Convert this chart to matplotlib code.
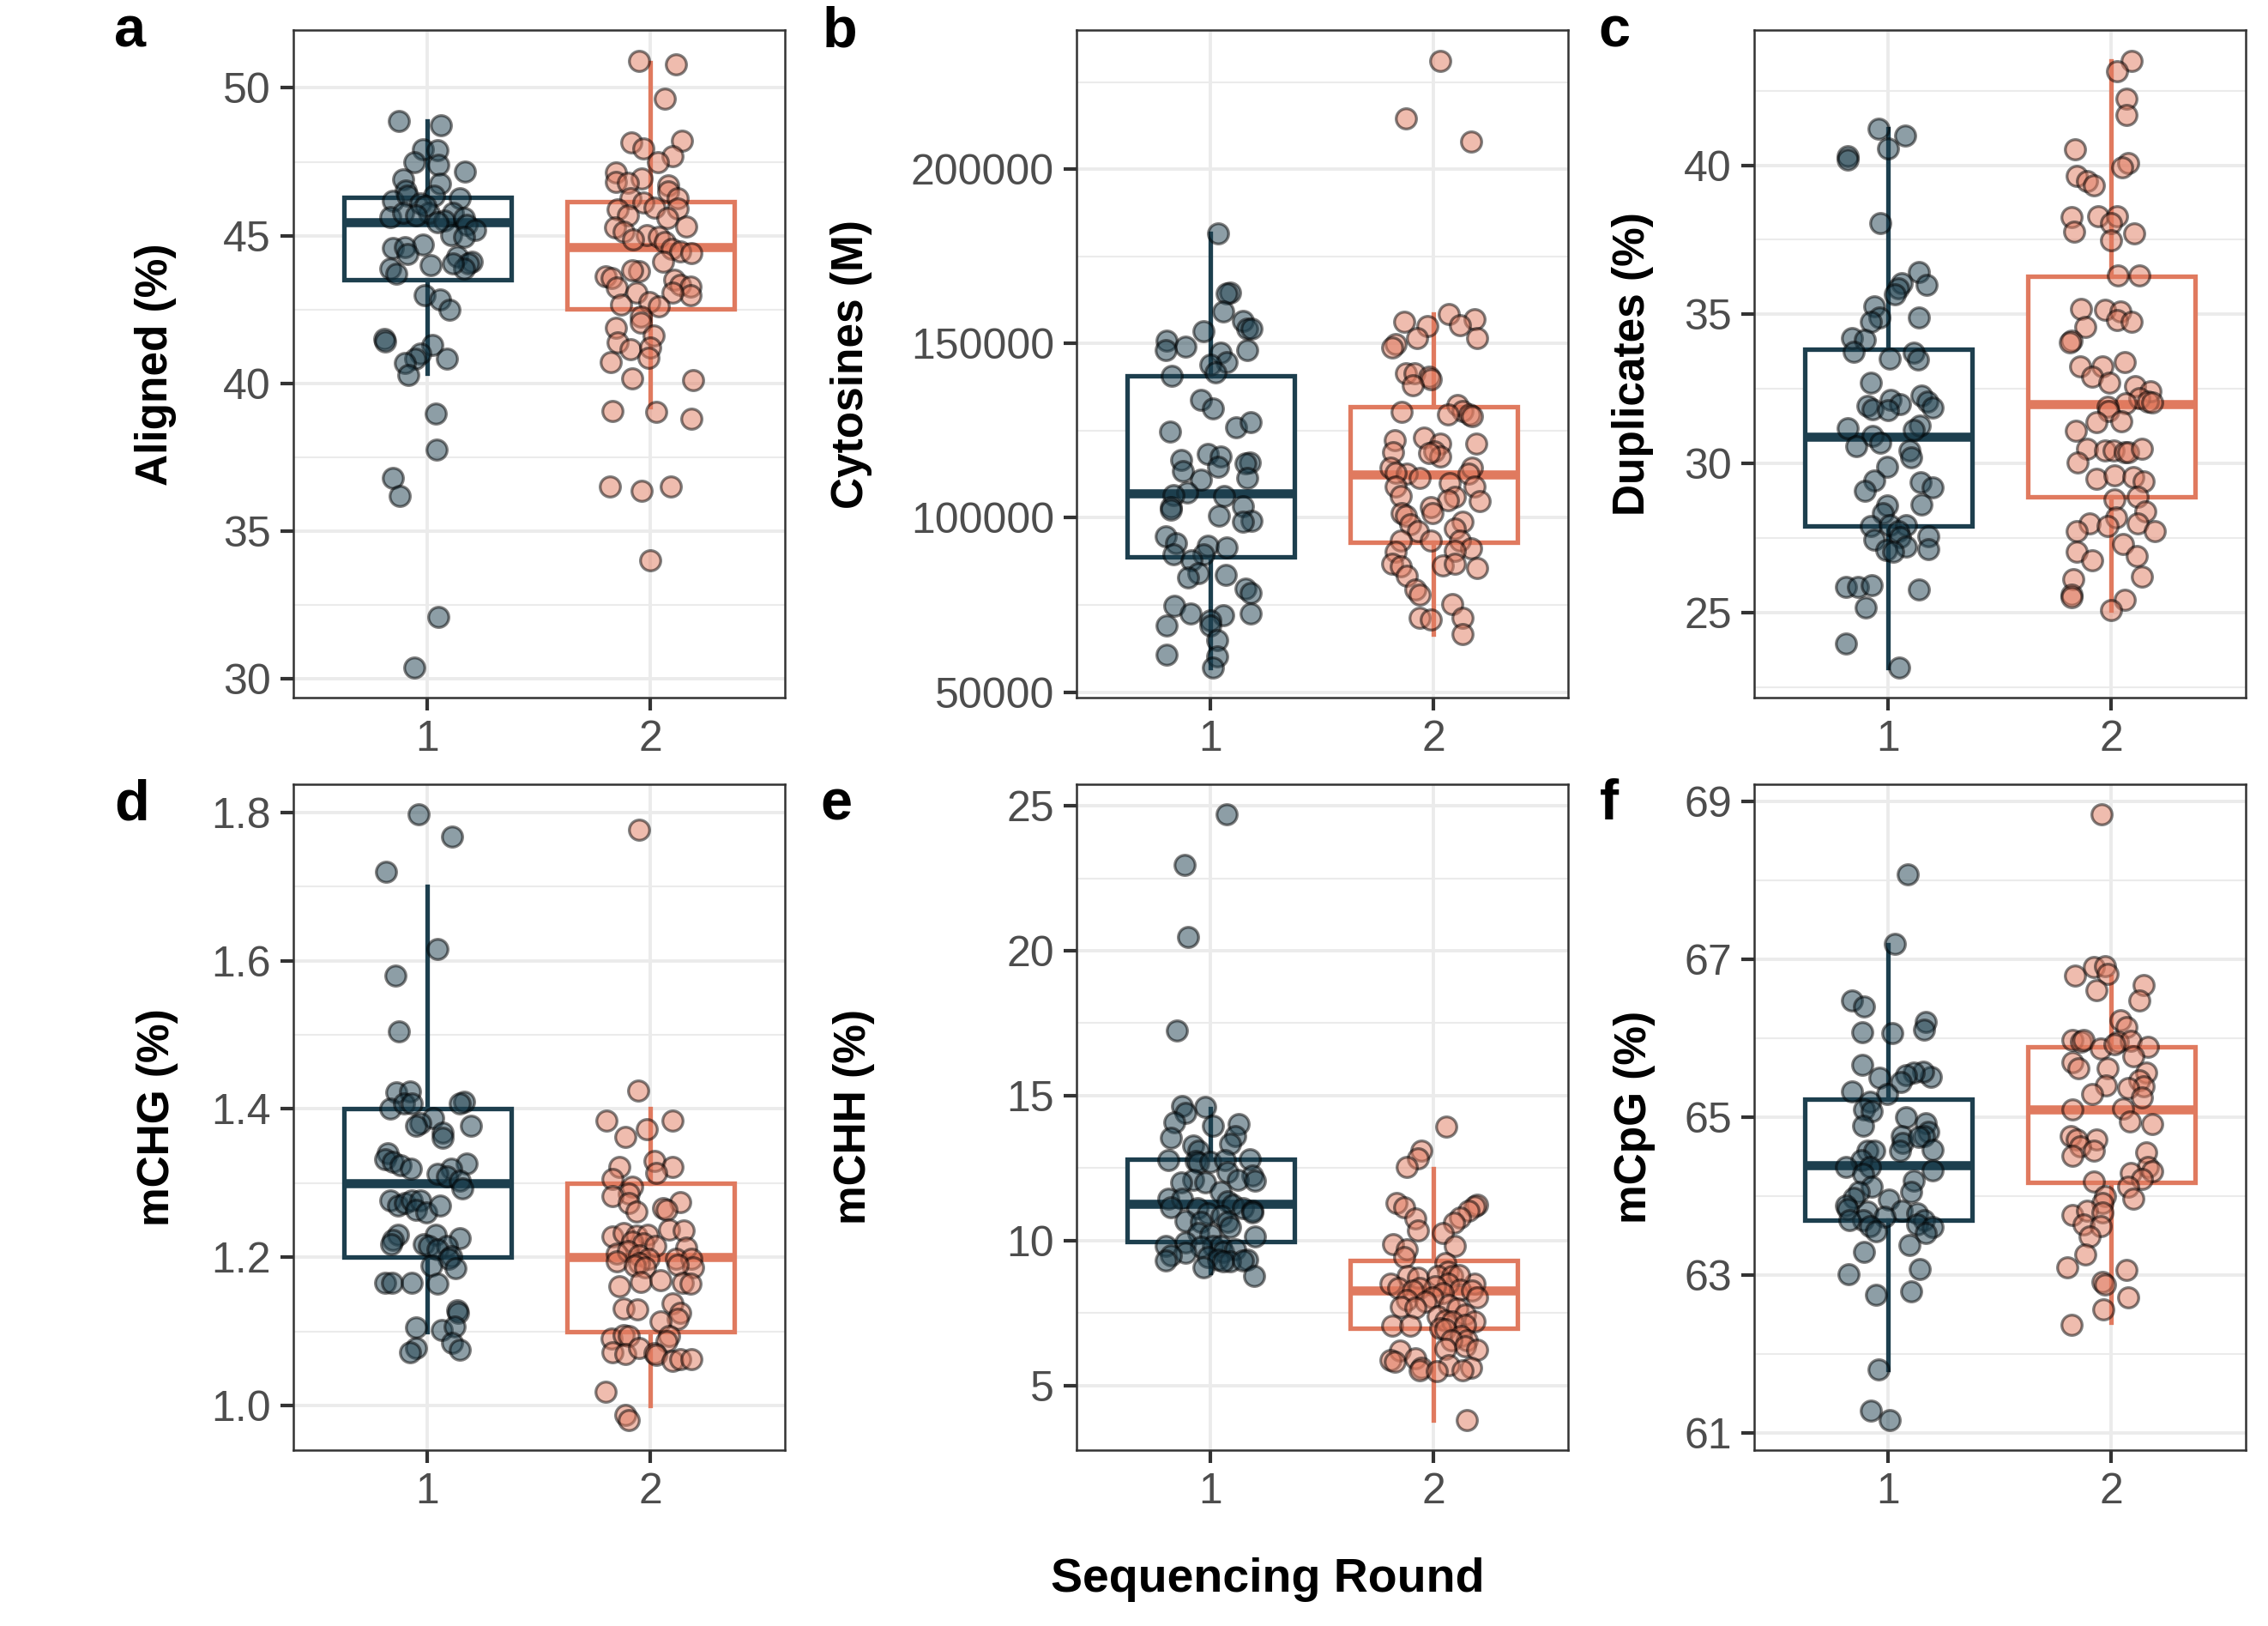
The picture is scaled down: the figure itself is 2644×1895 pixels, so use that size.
import numpy as np
import matplotlib
matplotlib.use('Agg')
import matplotlib.pyplot as plt
from matplotlib.ticker import MultipleLocator, AutoMinorLocator, FormatStrFormatter

plt.rcParams['font.family'] = ['Liberation Sans', 'DejaVu Sans']

# ------------------------------------------------------------
# Data: each row is (jitter offset, value)
# ------------------------------------------------------------
ROUNDS = [1, 2]
ROUND_LABELS = ['1', '2']

aligned_r1 = np.array([
    [-0.127, 48.89], [0.061, 48.74], [-0.02, 47.92], [0.047, 47.89], [-0.06, 47.48],
    [0.049, 47.40], [0.168, 47.17], [-0.11, 46.91], [0.057, 46.75], [-0.098, 46.53],
    [-0.155, 46.17], [-0.09, 46.34], [0.031, 46.34], [0.147, 46.26], [-0.03, 46.09],
    [0.115, 45.76], [-0.168, 45.63], [-0.11, 45.76], [0.008, 45.76], [0.076, 45.52],
    [0.164, 45.60], [0.176, 45.36], [0.213, 45.19], [0.106, 45.03], [0.164, 44.95],
    [-0.155, 44.59], [-0.02, 44.70], [-0.1, 44.62], [-0.09, 44.37], [0.135, 44.29],
    [0.2, 44.13], [0.184, 44.05], [0.164, 43.88], [0.115, 44.05], [0.014, 44.01],
    [-0.168, 43.88], [-0.139, 43.72], [-0.012, 42.98], [0.057, 42.85], [0.1, 42.49],
    [-0.194, 41.51], [-0.188, 41.40], [0.023, 41.30], [-0.03, 41.02], [-0.055, 40.83],
    [-0.1, 40.70], [-0.086, 40.29], [0.086, 40.83], [0.037, 38.96], [0.041, 37.75],
    [-0.153, 36.80], [-0.125, 36.17], [0.049, 32.09], [-0.059, 30.38], [-0.008, 46.01],
    [0.047, 45.44], [-0.05, 45.68],
])
aligned_r2 = np.array([
    [-0.053, 50.92], [0.114, 50.80], [0.063, 49.64], [0.141, 48.22], [-0.086, 48.14],
    [-0.033, 47.94], [0.1, 47.69], [0.031, 47.48], [-0.155, 47.15], [-0.039, 46.94],
    [-0.155, 46.81], [-0.102, 46.78], [0.08, 46.70], [0.08, 46.50], [-0.092, 46.26],
    [0.123, 46.26], [-0.033, 46.12], [0.016, 45.96], [-0.147, 45.90], [0.123, 45.93],
    [-0.102, 45.68], [0.074, 45.60], [-0.16, 45.27], [-0.121, 45.14], [0.159, 45.32],
    [-0.018, 45.03], [-0.08, 44.87], [0.035, 44.95], [0.065, 44.78], [0.094, 44.54],
    [0.133, 44.46], [0.182, 44.42], [0.055, 44.13], [-0.2, 43.61], [-0.176, 43.57],
    [-0.053, 43.80], [-0.082, 43.83], [0.104, 43.51], [0.133, 43.34], [0.178, 43.28],
    [0.178, 42.98], [-0.151, 43.23], [-0.063, 43.07], [0.1, 43.07], [-0.004, 42.74],
    [0.035, 42.61], [-0.131, 42.66], [-0.043, 42.25], [-0.043, 42.04], [-0.155, 41.89],
    [0.014, 41.63], [-0.147, 41.38], [-0.092, 41.15], [-0.002, 41.22], [-0.01, 40.86],
    [-0.18, 40.73], [-0.082, 40.17], [0.192, 40.11], [-0.17, 39.06], [0.025, 39.03],
    [0.182, 38.81], [-0.182, 36.49], [-0.041, 36.36], [0.09, 36.49], [-0.002, 34.02],
])

cytosines_r1 = np.array([
    [0.033, 181580], [0.088, 164680], [0.073, 164270], [0.055, 159140], [-0.033, 153600],
    [0.144, 156380], [0.166, 154300], [0.184, 154300], [-0.197, 150830], [-0.111, 149170],
    [-0.199, 148060], [0.166, 148200], [0.044, 147370], [0.073, 144600], [0.0, 143910],
    [0.022, 141830], [-0.173, 140720], [-0.044, 133800], [0.011, 131440], [0.115, 125900],
    [0.181, 127560], [-0.181, 124790], [-0.133, 116620], [-0.011, 118280], [0.044, 117590],
    [0.033, 114540], [-0.122, 113430], [0.177, 115790], [0.155, 115510], [-0.044, 110940],
    [0.166, 111360], [-0.104, 107200], [-0.166, 106510], [0.06, 106230], [-0.179, 103050],
    [-0.179, 102360], [0.144, 103330], [0.038, 100560], [0.184, 99170], [0.144, 98900],
    [-0.199, 94740], [-0.155, 92660], [-0.011, 91970], [0.073, 91550], [-0.166, 89480],
    [-0.033, 89480], [-0.084, 87820], [-0.055, 84080], [-0.1, 82970], [0.069, 83660],
    [0.155, 79780], [0.181, 78530], [-0.161, 74660], [-0.088, 72580], [0.055, 72160],
    [0.181, 72580], [-0.195, 69120], [0.0, 70500], [0.0, 69120], [0.029, 64960],
    [-0.195, 60800], [0.029, 60110], [0.011, 57070],
])
cytosines_r2 = np.array([
    [0.029, 231160], [-0.126, 214680], [0.166, 208030], [0.066, 158450], [-0.133, 156240],
    [0.184, 157070], [0.117, 155270], [-0.027, 154990], [-0.075, 151520], [0.195, 151520],
    [-0.17, 149860], [-0.188, 148750], [-0.126, 141410], [-0.086, 141410], [-0.02, 140450],
    [-0.015, 139750], [-0.093, 138090], [0.106, 132410], [0.128, 130750], [0.161, 129640],
    [0.173, 129090], [-0.142, 130340], [0.062, 129640], [-0.042, 123130], [0.029, 121330],
    [-0.175, 122160], [0.19, 121330], [0.002, 118980], [0.029, 117590], [-0.181, 118840],
    [-0.02, 118560], [-0.192, 114410], [0.173, 114410], [-0.119, 112750], [-0.17, 113020],
    [-0.064, 111360], [0.157, 112750], [0.073, 109980], [-0.17, 108870], [0.184, 109010],
    [-0.148, 106230], [0.095, 106090], [0.062, 105120], [0.206, 104710], [-0.015, 103050],
    [-0.142, 101390], [-0.004, 101390], [-0.126, 100560], [0.128, 98900], [-0.104, 98200],
    [0.095, 96820], [-0.071, 96130], [-0.148, 93360], [-0.015, 93360], [0.117, 93360],
    [0.168, 91280], [0.095, 90590], [-0.17, 90170], [-0.186, 86710], [-0.148, 86160],
    [0.04, 86430], [0.095, 86710], [0.195, 85460], [-0.122, 83380], [-0.082, 79500],
    [-0.064, 77840], [0.084, 75350], [-0.064, 71190], [-0.015, 70920], [0.128, 71190],
    [0.128, 66620],
])

duplicates_r1 = np.array([
    [-0.044, 41.21], [0.077, 41.00], [0.0, 40.57], [-0.18, 40.29], [-0.18, 40.19],
    [-0.035, 38.06], [0.139, 36.41], [0.172, 35.99], [0.062, 36.04], [0.046, 35.87],
    [0.029, 35.66], [-0.064, 35.28], [0.139, 34.89], [-0.039, 34.90], [-0.079, 34.74],
    [-0.164, 34.21], [-0.103, 34.14], [-0.155, 33.74], [0.116, 33.72], [0.135, 33.50],
    [0.008, 33.53], [-0.077, 32.72], [0.149, 32.28], [0.174, 32.07], [0.197, 31.88],
    [0.01, 32.15], [0.052, 31.99], [-0.093, 31.94], [-0.07, 31.83], [0.0, 31.78],
    [0.143, 31.26], [0.116, 31.13], [-0.18, 31.18], [-0.07, 30.94], [-0.035, 30.70],
    [-0.145, 30.58], [0.097, 30.45], [0.104, 30.21], [-0.004, 29.89], [0.147, 29.37],
    [0.197, 29.19], [-0.064, 29.43], [-0.106, 29.08], [0.149, 28.62], [-0.006, 28.59],
    [-0.025, 28.35], [-0.077, 27.90], [0.008, 27.94], [0.081, 27.94], [0.046, 27.73],
    [-0.064, 27.46], [0.052, 27.54], [0.178, 27.57], [0.178, 27.14], [0.081, 27.22],
    [-0.01, 27.09], [0.023, 27.06], [-0.19, 25.87], [-0.137, 25.87], [-0.074, 25.92],
    [0.139, 25.79], [-0.1, 25.19], [-0.19, 23.98], [0.048, 23.17],
])
duplicates_r2 = np.array([
    [0.091, 43.50], [0.025, 43.16], [0.068, 42.22], [0.068, 41.68], [-0.164, 40.52],
    [0.074, 40.08], [0.048, 39.92], [-0.155, 39.64], [-0.11, 39.48], [-0.077, 39.32],
    [-0.18, 38.27], [-0.058, 38.30], [0.025, 38.30], [-0.168, 37.77], [0.0, 38.06],
    [0.103, 37.70], [0.0, 37.49], [0.029, 36.31], [0.126, 36.31], [-0.135, 35.19],
    [-0.029, 35.15], [0.039, 35.10], [0.025, 34.82], [0.091, 34.74], [-0.116, 34.58],
    [-0.18, 34.13], [-0.188, 34.05], [0.058, 33.40], [-0.139, 33.25], [-0.039, 33.25],
    [-0.087, 32.91], [-0.01, 32.72], [0.106, 32.61], [0.174, 32.43], [0.126, 32.20],
    [0.164, 32.07], [0.184, 32.04], [0.064, 32.02], [-0.019, 31.91], [-0.014, 31.75],
    [-0.068, 31.38], [0.044, 31.42], [-0.161, 31.10], [-0.11, 30.49], [-0.029, 30.45],
    [0.01, 30.45], [0.058, 30.37], [0.077, 30.37], [0.135, 30.49], [-0.151, 30.05],
    [-0.068, 29.48], [0.014, 29.60], [0.097, 29.56], [0.145, 29.40], [0.116, 28.88],
    [0.015, 28.79], [0.151, 28.40], [0.023, 28.19], [-0.097, 28.00], [0.116, 28.00],
    [-0.019, 27.91], [0.193, 27.75], [-0.155, 27.73], [0.052, 27.31], [-0.155, 27.06],
    [0.112, 26.89], [-0.087, 26.76], [0.135, 26.20], [-0.17, 26.12], [-0.178, 25.60],
    [-0.178, 25.52], [0.058, 25.44], [0.0, 25.08],
])

mchg_r1 = np.array([
    [-0.041, 1.797], [0.112, 1.767], [-0.184, 1.720], [0.047, 1.616], [-0.143, 1.580],
    [-0.129, 1.505], [-0.139, 1.422], [-0.078, 1.424], [-0.168, 1.401], [-0.104, 1.408],
    [-0.07, 1.407], [0.164, 1.410], [0.145, 1.407], [0.027, 1.388], [-0.031, 1.381],
    [-0.051, 1.377], [0.194, 1.377], [0.067, 1.368], [0.067, 1.361], [-0.178, 1.340],
    [-0.188, 1.332], [-0.153, 1.329], [-0.119, 1.324], [-0.074, 1.319], [0.174, 1.327],
    [0.106, 1.319], [0.047, 1.313], [0.086, 1.309], [0.145, 1.303], [0.155, 1.293],
    [-0.168, 1.277], [-0.133, 1.270], [-0.1, 1.273], [-0.07, 1.277], [-0.031, 1.277],
    [-0.051, 1.264], [-0.006, 1.260], [0.057, 1.270], [-0.133, 1.231], [-0.153, 1.223],
    [-0.164, 1.218], [0.037, 1.231], [0.145, 1.226], [-0.016, 1.218], [0.008, 1.216],
    [0.086, 1.215], [0.047, 1.211], [0.106, 1.202], [0.096, 1.198], [0.018, 1.189],
    [0.126, 1.185], [-0.188, 1.166], [-0.159, 1.166], [-0.07, 1.166], [0.047, 1.164],
    [0.135, 1.129], [0.139, 1.125], [-0.051, 1.105], [0.063, 1.102], [0.121, 1.107],
    [0.112, 1.085], [0.145, 1.076], [-0.051, 1.078], [-0.076, 1.072],
])
mchg_r2 = np.array([
    [-0.053, 1.777], [-0.057, 1.425], [-0.196, 1.384], [0.1, 1.384], [-0.018, 1.373],
    [-0.115, 1.362], [0.016, 1.330], [0.1, 1.322], [-0.141, 1.322], [0.025, 1.314],
    [-0.17, 1.306], [-0.082, 1.295], [-0.096, 1.286], [-0.17, 1.283], [0.133, 1.275],
    [-0.096, 1.273], [-0.063, 1.262], [0.055, 1.266], [0.07, 1.264], [0.084, 1.238],
    [0.149, 1.236], [-0.17, 1.228], [-0.121, 1.233], [-0.065, 1.229], [-0.014, 1.231],
    [-0.082, 1.221], [-0.033, 1.219], [0.02, 1.215], [0.161, 1.213], [-0.151, 1.205],
    [-0.102, 1.208], [-0.053, 1.203], [-0.01, 1.198], [0.114, 1.198], [0.182, 1.198],
    [-0.151, 1.195], [-0.053, 1.192], [-0.072, 1.189], [-0.024, 1.187], [0.192, 1.187],
    [0.123, 1.190], [-0.141, 1.161], [-0.043, 1.167], [0.045, 1.169], [0.143, 1.166],
    [0.178, 1.164], [0.1, 1.138], [-0.121, 1.131], [-0.059, 1.130], [0.133, 1.125],
    [0.123, 1.117], [0.045, 1.114], [-0.174, 1.091], [-0.121, 1.095], [-0.096, 1.094],
    [0.084, 1.094], [0.07, 1.087], [-0.17, 1.072], [-0.115, 1.070], [-0.053, 1.078],
    [0.016, 1.071], [0.025, 1.068], [0.1, 1.061], [0.133, 1.063], [0.182, 1.063],
    [-0.2, 1.019], [-0.112, 0.988], [-0.096, 0.981],
])

mchh_r1 = np.array([
    [0.071, 24.70], [-0.117, 22.97], [-0.1, 20.47], [-0.15, 17.25], [-0.128, 14.65],
    [-0.022, 14.60], [-0.111, 14.40], [-0.162, 14.07], [0.011, 13.97], [0.126, 14.02],
    [0.111, 13.60], [-0.177, 13.55], [0.088, 13.35], [-0.077, 13.27], [-0.055, 13.10],
    [-0.188, 12.77], [0.177, 12.82], [-0.066, 12.74], [-0.055, 12.69], [0.0, 12.72],
    [0.066, 12.77], [0.077, 12.35], [0.188, 12.24], [-0.077, 12.10], [0.122, 12.10],
    [0.199, 12.07], [-0.133, 12.02], [-0.022, 12.00], [0.044, 11.69], [-0.188, 11.44],
    [-0.128, 11.44], [0.077, 11.36], [0.1, 11.24], [-0.177, 11.14], [-0.06, 11.11],
    [0.144, 11.11], [0.188, 11.02], [-0.011, 10.94], [0.051, 10.86], [0.188, 10.97],
    [-0.111, 10.69], [-0.044, 10.64], [0.077, 10.64], [0.088, 10.47], [-0.055, 10.27],
    [0.0, 10.19], [0.199, 10.14], [-0.111, 9.94], [-0.199, 9.81], [0.011, 9.81],
    [0.044, 9.81], [-0.044, 9.78], [0.055, 9.61], [-0.111, 9.58], [0.111, 9.69],
    [-0.011, 9.44], [-0.177, 9.48], [-0.199, 9.31], [0.033, 9.36], [0.166, 9.36],
    [0.088, 9.28], [0.055, 9.28], [0.144, 9.31], [-0.033, 9.08], [0.195, 8.78],
])
mchh_r2 = np.array([
    [0.055, 13.94], [-0.055, 13.10], [-0.071, 12.85], [-0.119, 12.55], [0.195, 11.24],
    [0.184, 11.19], [-0.166, 11.31], [-0.131, 11.14], [0.157, 11.02], [0.117, 10.81],
    [-0.082, 10.77], [0.091, 10.61], [-0.071, 10.36], [0.04, 10.27], [-0.181, 9.89],
    [0.095, 9.81], [-0.122, 9.69], [-0.131, 9.44], [0.051, 9.24], [0.062, 8.94],
    [-0.115, 8.78], [-0.071, 8.73], [0.018, 8.78], [0.084, 8.78], [-0.192, 8.53],
    [0.184, 8.53], [0.113, 8.81], [0.062, 8.53], [0.007, 8.44], [-0.159, 8.36],
    [-0.064, 8.36], [0.117, 8.31], [-0.093, 8.28], [0.173, 8.28], [0.04, 8.19],
    [0.195, 8.03], [-0.004, 8.03], [-0.119, 7.95], [-0.038, 7.90], [0.069, 7.78],
    [-0.148, 7.73], [-0.082, 7.70], [0.106, 7.65], [0.139, 7.45], [0.018, 7.40],
    [0.051, 7.25], [0.084, 7.20], [0.184, 7.20], [0.139, 7.11], [-0.186, 7.08],
    [-0.104, 7.08], [0.029, 6.98], [0.051, 6.94], [0.122, 6.70], [0.15, 6.56],
    [0.08, 6.56], [0.139, 6.36], [0.195, 6.25], [0.051, 6.28], [-0.153, 6.20],
    [-0.192, 5.87], [-0.175, 5.83], [-0.082, 5.95], [0.069, 5.70], [0.166, 5.62],
    [-0.055, 5.62], [-0.064, 5.53], [0.128, 5.53], [0.013, 5.50], [0.15, 3.82],
])

mcpg_r1 = np.array([
    [0.087, 68.07], [0.029, 67.19], [-0.161, 66.48], [-0.108, 66.40], [0.168, 66.21],
    [0.159, 66.11], [-0.118, 66.07], [0.017, 66.06], [-0.116, 65.66], [0.192, 65.51],
    [0.155, 65.58], [0.116, 65.56], [0.081, 65.53], [0.058, 65.44], [-0.039, 65.50],
    [-0.161, 65.33], [-0.004, 65.29], [-0.083, 65.19], [-0.108, 65.10], [-0.074, 65.08],
    [0.081, 65.00], [-0.112, 64.89], [0.17, 64.92], [0.179, 64.81], [0.062, 64.76],
    [0.159, 64.76], [0.066, 64.67], [0.139, 64.75], [0.197, 64.59], [0.052, 64.58],
    [-0.093, 64.58], [-0.064, 64.58], [-0.122, 64.46], [-0.19, 64.37], [-0.083, 64.37],
    [0.197, 64.33], [-0.112, 64.28], [0.116, 64.20], [-0.074, 64.12], [-0.132, 64.06],
    [0.104, 64.06], [-0.155, 63.98], [0.004, 63.96], [-0.19, 63.88], [-0.181, 63.84],
    [0.062, 63.82], [0.13, 63.78], [-0.093, 63.80], [-0.015, 63.74], [-0.112, 63.70],
    [-0.174, 63.70], [0.159, 63.70], [0.13, 63.64], [0.197, 63.61], [-0.083, 63.62],
    [0.168, 63.53], [-0.054, 63.56], [0.095, 63.38], [-0.108, 63.30], [0.143, 63.08],
    [-0.176, 63.01], [0.101, 62.80], [-0.054, 62.75], [-0.044, 61.81], [-0.077, 61.29],
    [0.006, 61.17],
])
mcpg_r2 = np.array([
    [-0.043, 68.83], [-0.164, 66.79], [-0.077, 66.90], [-0.029, 66.91], [-0.019, 66.81],
    [-0.068, 66.61], [0.145, 66.67], [0.126, 66.48], [0.039, 66.23], [0.068, 66.14],
    [-0.174, 65.98], [-0.135, 65.95], [-0.126, 65.98], [-0.048, 65.87], [0.029, 65.95],
    [0.087, 65.97], [0.164, 65.89], [0.014, 65.92], [0.097, 65.77], [-0.174, 65.69],
    [-0.149, 65.62], [-0.019, 65.62], [0.155, 65.56], [0.126, 65.47], [0.145, 65.39],
    [0.074, 65.37], [-0.025, 65.40], [-0.087, 65.29], [0.135, 65.25], [-0.174, 65.10],
    [0.052, 65.11], [0.081, 64.94], [0.184, 64.91], [-0.184, 64.76], [-0.068, 64.72],
    [-0.155, 64.72], [-0.139, 64.63], [-0.077, 64.58], [-0.174, 64.51], [0.155, 64.55],
    [0.164, 64.37], [0.184, 64.32], [0.087, 64.29], [0.135, 64.22], [0.077, 64.12],
    [-0.077, 64.19], [0.097, 63.97], [-0.029, 64.00], [-0.039, 63.91], [-0.174, 63.76],
    [-0.11, 63.82], [-0.039, 63.79], [-0.126, 63.64], [-0.048, 63.62], [-0.097, 63.49],
    [-0.116, 63.26], [-0.197, 63.10], [0.068, 63.07], [-0.039, 62.92], [-0.029, 62.88],
    [0.074, 62.72], [-0.035, 62.57], [-0.178, 62.37],
])

# box statistics per round: (q1, median, q3, whisker low, whisker high)
aligned_box = [(43.51, 45.44, 46.29, 40.34, 48.87), (42.53, 44.62, 46.16, 39.22, 50.87)]
cytosines_box = [(88780, 106925, 140860, 57070, 181580), (92940, 112330, 131860, 66620, 158450)]
duplicates_box = [(27.91, 30.89, 33.82, 23.17, 41.21), (28.88, 31.99, 36.28, 25.08, 43.50)]
mchg_box = [(1.20, 1.30, 1.40, 1.10, 1.70), (1.10, 1.20, 1.30, 1.00, 1.40)]
mchh_box = [(9.98, 11.27, 12.80, 8.89, 14.55), (6.98, 8.28, 9.31, 3.82, 12.47)]
mcpg_box = [(63.70, 64.39, 65.23, 61.81, 67.18), (64.17, 65.10, 65.89, 62.40, 66.78)]

# ------------------------------------------------------------
# Styling
# ------------------------------------------------------------
DARK = '#1D3F4E'
SALMON = '#E07A5F'
COLORS = [DARK, SALMON]
GRID = '#EBEBEB'
TICK_TXT = '#4D4D4D'
BORDER = '#333333'

fig = plt.figure(figsize=(13.22, 9.475), dpi=200)
fig.patch.set_facecolor('white')

TOP_B, TOP_H = 0.5709, 0.4104
BOT_B, BOT_H = 0.1082, 0.4095
LEFTS = [0.1294, 0.4747, 0.7735]
WIDTH = 0.2165

panels = [
    # letter, ylabel, r1, r2, box, tick step, tick offset, fmt, rect, letter pos, ylabel x
    ('a', 'Aligned (%)', aligned_r1, aligned_r2, aligned_box, 5, 0, '%d',
     [LEFTS[0], TOP_B, WIDTH, TOP_H], (0.0503, 0.9715), 0.0685),
    ('b', 'Cytosines (M)', cytosines_r1, cytosines_r2, cytosines_box, 50000, 0, '%d',
     [LEFTS[1], TOP_B, WIDTH, TOP_H], (0.3627, 0.9715), 0.3755),
    ('c', 'Duplicates (%)', duplicates_r1, duplicates_r2, duplicates_box, 5, 0, '%d',
     [LEFTS[2], TOP_B, WIDTH, TOP_H], (0.7046, 0.9715), 0.7200),
    ('d', 'mCHG (%)', mchg_r1, mchg_r2, mchg_box, 0.2, 0, '%.1f',
     [LEFTS[0], BOT_B, WIDTH, BOT_H], (0.0503, 0.4960), 0.0695),
    ('e', 'mCHH (%)', mchh_r1, mchh_r2, mchh_box, 5, 0, '%d',
     [LEFTS[1], BOT_B, WIDTH, BOT_H], (0.3616, 0.4960), 0.3765),
    ('f', 'mCpG (%)', mcpg_r1, mcpg_r2, mcpg_box, 2, 1, '%d',
     [LEFTS[2], BOT_B, WIDTH, BOT_H], (0.7054, 0.4960), 0.7205),
]

for letter, ylabel, r1, r2, box, step, offset, fmt, rect, lpos, ylx in panels:
    ax = fig.add_axes(rect)
    ax.set_facecolor('white')

    stats = []
    for q1, med, q3, wlo, whi in box:
        stats.append({'q1': q1, 'med': med, 'q3': q3,
                      'whislo': wlo, 'whishi': whi, 'fliers': []})
    bp = ax.bxp(stats, positions=ROUNDS, widths=0.75, showcaps=False,
                showfliers=False, patch_artist=True, zorder=2)
    for i, col in enumerate(COLORS):
        bp['boxes'][i].set_facecolor('white')
        bp['boxes'][i].set_edgecolor(col)
        bp['boxes'][i].set_linewidth(1.9)
        bp['medians'][i].set_color(col)
        bp['medians'][i].set_linewidth(3.8)
        bp['medians'][i].set_solid_capstyle('butt')
        for w in bp['whiskers'][2 * i:2 * i + 2]:
            w.set_color(col)
            w.set_linewidth(1.9)

    for pos, grp, col in zip(ROUNDS, [r1, r2], COLORS):
        ax.scatter(pos + grp[:, 0], grp[:, 1], s=72, facecolor=col, alpha=0.5,
                   edgecolor='black', linewidths=1.2, zorder=3)

    ax.set_xlim(0.4, 2.6)
    ax.margins(y=0.05)
    ax.set_xticks(ROUNDS)
    ax.set_xticklabels(ROUND_LABELS)
    ax.yaxis.set_major_locator(MultipleLocator(step, offset=offset))
    ax.yaxis.set_minor_locator(AutoMinorLocator(2))
    ax.yaxis.set_major_formatter(FormatStrFormatter(fmt))

    ax.set_axisbelow(True)
    ax.xaxis.grid(True, which='major', color=GRID, linewidth=1.4)
    ax.yaxis.grid(True, which='major', color=GRID, linewidth=1.4)
    ax.yaxis.grid(True, which='minor', color=GRID, linewidth=0.75)

    ax.tick_params(which='major', length=5.4, width=1.5, color=BORDER,
                   labelcolor=TICK_TXT, labelsize=18, pad=4)
    ax.tick_params(which='minor', length=0)
    for sp in ax.spines.values():
        sp.set_color(BORDER)
        sp.set_linewidth(0.9)

    fig.text(lpos[0], lpos[1], letter, fontsize=24, fontweight='bold',
             ha='left', va='baseline')
    fig.text(ylx, rect[1] + rect[3] / 2, ylabel, fontsize=18.5, fontweight='bold',
             rotation=90, ha='center', va='center')

fig.text(0.559, 0.0211, 'Sequencing Round', fontsize=20, fontweight='bold',
         ha='center', va='baseline')

fig.savefig('out.png', dpi=200, facecolor='white')
